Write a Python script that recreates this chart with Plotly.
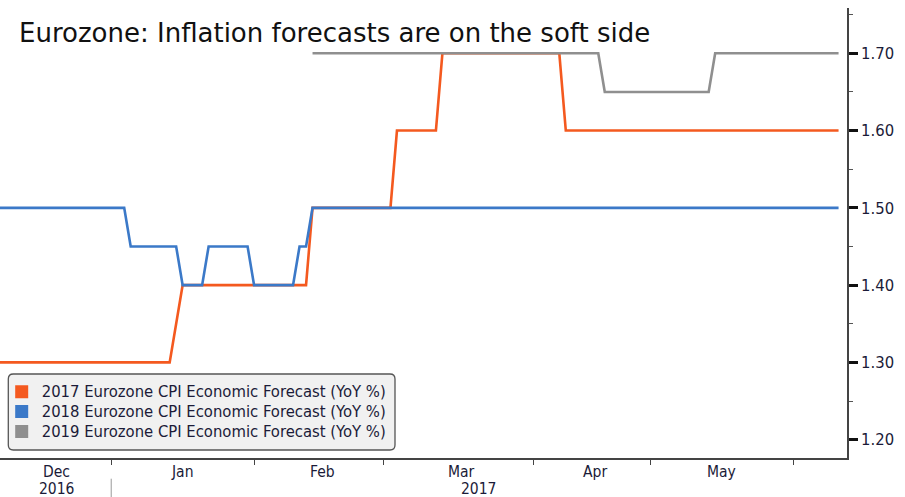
import plotly.graph_objects as go

# ---- data (vertices) ----
dates_2017 = ["2016-12-06", "2017-01-13", "2017-01-17", "2017-02-13", "2017-02-14",
              "2017-03-02", "2017-03-03", "2017-03-13", "2017-03-14", "2017-04-07",
              "2017-04-10", "2017-06-12"]
vals_2017 = [1.30, 1.30, 1.40, 1.40, 1.50, 1.50, 1.60, 1.60, 1.70, 1.70, 1.60, 1.60]

dates_2018 = ["2016-12-06", "2017-01-04", "2017-01-05", "2017-01-16", "2017-01-17",
              "2017-01-20", "2017-01-23", "2017-01-31", "2017-02-01", "2017-02-09",
              "2017-02-10", "2017-02-13", "2017-02-14", "2017-06-12"]
vals_2018 = [1.50, 1.50, 1.45, 1.45, 1.40, 1.40, 1.45, 1.45, 1.40, 1.40,
             1.45, 1.45, 1.50, 1.50]

dates_2019 = ["2017-02-14", "2017-04-19", "2017-04-20", "2017-05-15", "2017-05-16",
              "2017-06-12"]
vals_2019 = [1.70, 1.70, 1.65, 1.65, 1.70, 1.70]

series_names = ["2017 Eurozone CPI Economic Forecast (YoY %)",
                "2018 Eurozone CPI Economic Forecast (YoY %)",
                "2019 Eurozone CPI Economic Forecast (YoY %)"]
colors = ["#F4591F", "#3B79C8", "#8F8F8F"]

holidays = ["2016-12-26", "2017-04-14", "2017-04-17", "2017-05-01"]
month_ticks = ["2017-01-02", "2017-02-01", "2017-03-01", "2017-04-03", "2017-05-02", "2017-06-01"]
month_labels = ["Dec", "Jan", "Feb", "Mar", "Apr", "May"]
month_label_pos = ["2016-12-19 12:00", "2017-01-17", "2017-02-15 12:00", "2017-03-17",
                   "2017-04-18 12:00", "2017-05-17"]
year_labels = ["2016", "2017"]
year_label_pos = ["2016-12-19 12:00", "2017-03-21 12:00"]
y_ticks = [1.20, 1.30, 1.40, 1.50, 1.60, 1.70]

TXT = "#1B1B38"
FONT = "DejaVu Sans Condensed, DejaVu Sans, sans-serif"
FONT_T = "DejaVu Sans, sans-serif"

fig = go.Figure()
for d, v, c in zip([dates_2017, dates_2018, dates_2019], [vals_2017, vals_2018, vals_2019], colors):
    fig.add_trace(go.Scatter(x=d, y=v, mode="lines", line=dict(color=c, width=2.6),
                             showlegend=False, hoverinfo="skip"))
for n, c in zip(series_names, colors):
    fig.add_trace(go.Scatter(x=[None], y=[None], mode="markers",
                             name=f'<span style="font-size:16.5px">{n}</span>',
                             marker=dict(symbol="square", size=13, color=c)))

fig.update_layout(
    width=905, height=497,
    margin=dict(l=0, r=58, t=8, b=39),
    paper_bgcolor="white", plot_bgcolor="white",
    font=dict(family=FONT, color=TXT),
    legend=dict(x=0.002, y=0.025, xanchor="left", yanchor="bottom",
                bgcolor="rgba(0,0,0,0)", font=dict(size=13, color=TXT, family=FONT),
                tracegroupgap=0, itemwidth=30),
    showlegend=True,
)

fig.update_xaxes(
    type="date",
    range=["2016-12-06 21:00", "2017-06-13 07:12"],
    rangebreaks=[dict(bounds=["sat", "mon"]), dict(values=holidays)],
    tickmode="array", tickvals=month_ticks, showticklabels=False,
    ticks="outside", ticklen=5, tickcolor="#444", tickwidth=1,
    showline=True, linecolor="#444", linewidth=1.5,
    showgrid=False, zeroline=False,
)
fig.update_yaxes(
    side="right", range=[1.1763, 1.7586],
    tickmode="array", tickvals=y_ticks, tickformat=".2f",
    ticks="outside", ticklen=9, tickwidth=2.5, tickcolor="#111",
    minor=dict(tickmode="linear", tick0=1.15, dtick=0.1, ticks="outside", ticklen=4,
               tickcolor="#555", tickwidth=1, showgrid=False),
    tickfont=dict(size=16.5, color=TXT, family=FONT),
    showline=True, linecolor="#444", linewidth=1.5,
    showgrid=False, zeroline=False,
)

# title
fig.add_annotation(text="Eurozone: Inflation forecasts are on the soft side",
                   xref="paper", yref="paper", x=0.02, y=0.944, xanchor="left", yanchor="middle",
                   showarrow=False, font=dict(size=26, color="#111", family=FONT_T))

# month labels
for lab, pos in zip(month_labels, month_label_pos):
    fig.add_annotation(text=lab, xref="x", yref="paper", x=pos, y=-0.0311,
                       xanchor="center", yanchor="middle", showarrow=False,
                       font=dict(size=15.5, color=TXT, family=FONT))
for lab, pos in zip(year_labels, year_label_pos):
    fig.add_annotation(text=lab, xref="x", yref="paper", x=pos, y=-0.0689,
                       xanchor="center", yanchor="middle", showarrow=False,
                       font=dict(size=15.5, color=TXT, family=FONT))
# year divider
fig.add_shape(type="line", xref="x", yref="paper", x0="2017-01-02", x1="2017-01-02",
              y0=-0.046, y1=-0.09, line=dict(color="#999", width=1))

# legend box (rounded)
x0, x1 = 8.3 / 847, 395 / 847
y0, y1 = (458 - 450) / 450, (458 - 374) / 450
r = 5
rx, ry = r / 847, r / 450
path = (f"M {x0+rx},{y0} L {x1-rx},{y0} Q {x1},{y0} {x1},{y0+ry} L {x1},{y1-ry} "
        f"Q {x1},{y1} {x1-rx},{y1} L {x0+rx},{y1} Q {x0},{y1} {x0},{y1-ry} "
        f"L {x0},{y0+ry} Q {x0},{y0} {x0+rx},{y0} Z")
fig.add_shape(type="path", xref="paper", yref="paper", path=path,
              fillcolor="#F1F1F1", line=dict(color="#555", width=1.3), layer="below")

fig.write_html("out.html")
